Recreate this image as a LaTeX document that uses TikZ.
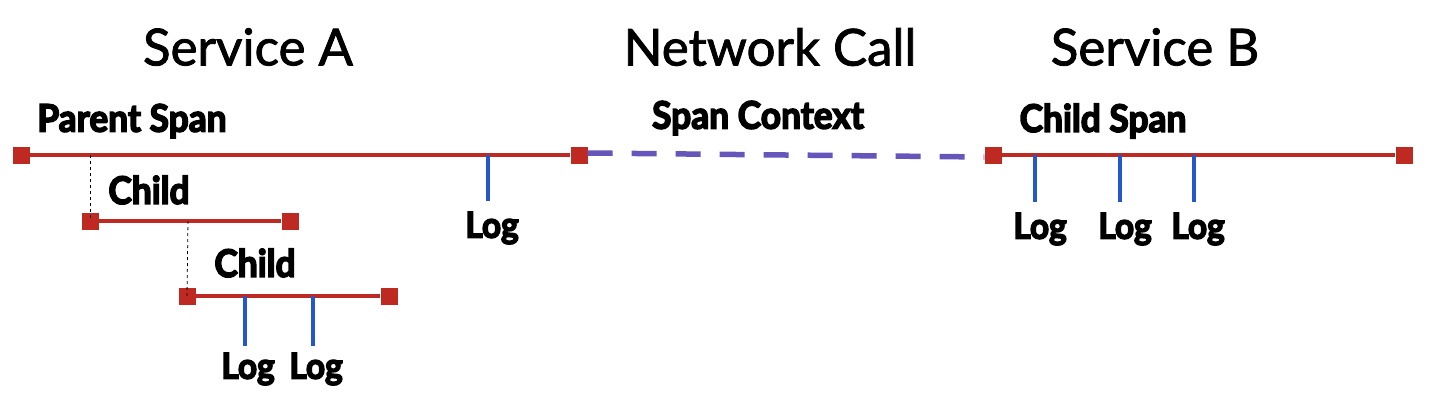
\documentclass[tikz,border=0pt]{standalone}
\usepackage{fontspec}
\setmainfont{Lato}
\newfontfamily\headfont[FakeBold=1.6]{Lato}
\newfontfamily\lblfont[FakeStretch=0.93,FakeBold=4]{Lato}
\definecolor{spanred}{HTML}{BE2A22}
\definecolor{logblue}{HTML}{2457CC}
\definecolor{ctxpurple}{HTML}{6655BB}
\begin{document}
\begin{tikzpicture}[x=1pt,y=-1pt,
  endsq/.style={rectangle,fill=spanred,minimum size=17pt,inner sep=0pt},
  spanline/.style={spanred,line width=3.5pt},
  logtick/.style={logblue,line width=3.5pt},
  link/.style={black,line width=0.8pt,dash pattern=on 3pt off 3pt},
  ctx/.style={ctxpurple,line width=5.5pt,dash pattern=on 25pt off 19pt},
  heading/.style={font=\headfont\fontsize{51}{56}\selectfont,inner sep=0pt},
  lbl/.style={font=\lblfont\bfseries\fontsize{38}{42}\selectfont,inner sep=0pt},
  loglbl/.style={font=\lblfont\bfseries\fontsize{36}{40}\selectfont,inner sep=0pt}]
\useasboundingbox (0,0) rectangle (1432,400);
% headings
\node[heading] (hA) at (248,47) {Service A};
\node[heading] (hN) at (770,47) {Network Call};
\node[heading] (hB) at (1155,47) {Service B};
% parent span
\node[lbl] (lp) at (132,121) {Parent Span};
\node[endsq] (p1) at (21,155) {};
\node[endsq] (p2) at (579,155) {};
\draw[spanline] (p1) -- (p2);
\coordinate (pl) at (488,155);
\node[loglbl] (plog) at (492,228) {Log};
\coordinate (plb) at (488,201);
\draw[logtick] (pl) -- (plb);
% child 1
\node[lbl] (lc1) at (149,190) {Child};
\node[endsq] (c1a) at (90,221) {};
\node[endsq] (c1b) at (290,221) {};
\draw[spanline] (c1a) -- (c1b);
\coordinate (pc) at (90,155);
\draw[link] (pc) -- (c1a.center);
% child 2
\node[lbl] (lc2) at (255,263) {Child};
\node[endsq] (c2a) at (187,296) {};
\node[endsq] (c2b) at (389,296) {};
\draw[spanline] (c2a) -- (c2b);
\coordinate (c1c) at (188,221);
\draw[link] (c1c) -- (c2a.center);
\coordinate (c2l1) at (245,296);
\coordinate (c2l1b) at (245,346);
\coordinate (c2l2) at (313,296);
\coordinate (c2l2b) at (313,346);
\draw[logtick] (c2l1) -- (c2l1b);
\draw[logtick] (c2l2) -- (c2l2b);
\node[loglbl] (c2log1) at (248,369) {Log};
\node[loglbl] (c2log2) at (316,369) {Log};
% network call
\node[lbl] (lctx) at (758,118) {Span Context};
% service B
\node[lbl] (lcs) at (1103,121) {Child Span};
\node[endsq] (b1) at (993,155) {};
\node[endsq] (b2) at (1404,155) {};
\draw[spanline] (b1) -- (b2);
\draw[ctx] ([yshift=2pt]p2.east) -- ([yshift=-2pt]b1.west);
\coordinate (bl1) at (1035,155);
\coordinate (bl1b) at (1035,202);
\coordinate (bl2) at (1120,155);
\coordinate (bl2b) at (1120,202);
\coordinate (bl3) at (1194,155);
\coordinate (bl3b) at (1194,202);
\draw[logtick] (bl1) -- (bl1b);
\draw[logtick] (bl2) -- (bl2b);
\draw[logtick] (bl3) -- (bl3b);
\node[loglbl] (blog1) at (1040,229) {Log};
\node[loglbl] (blog2) at (1125,229) {Log};
\node[loglbl] (blog3) at (1198,229) {Log};
\end{tikzpicture}
\end{document}
